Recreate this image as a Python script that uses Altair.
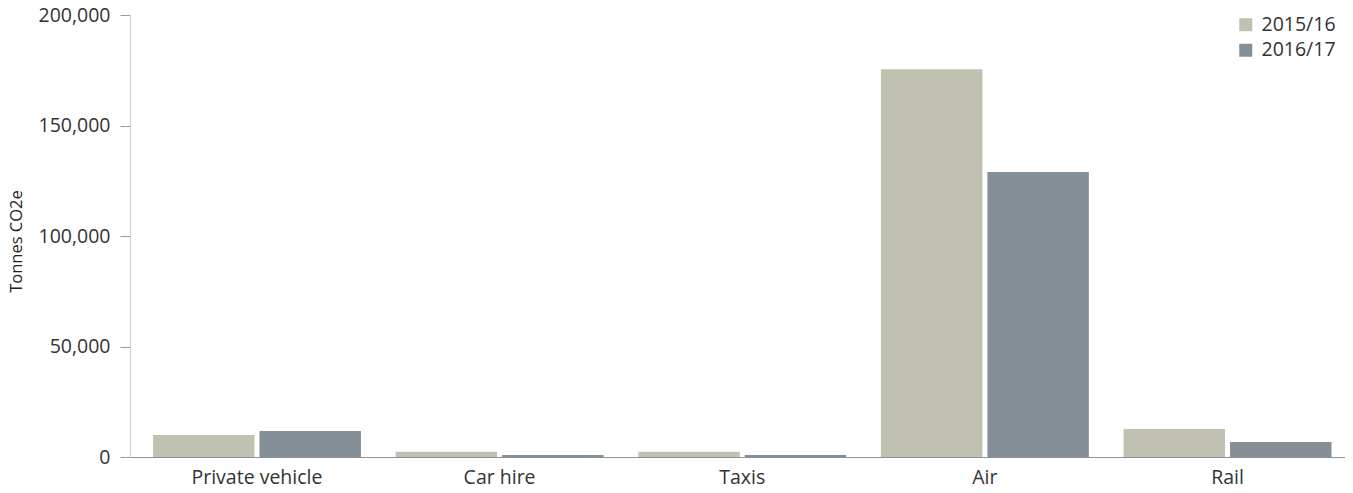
import altair as alt
import pandas as pd

categories = ["Private vehicle", "Car hire", "Taxis", "Air", "Rail"]
years = ["2015/16", "2016/17"]
values_1516 = [10000, 2400, 2400, 175500, 12700]
values_1617 = [11800, 900, 900, 129000, 6800]
colors = ["#c0c1b1", "#848f97"]

rows = []
for c, a, b in zip(categories, values_1516, values_1617):
    rows.append({"category": c, "year": years[0], "value": a})
    rows.append({"category": c, "year": years[1], "value": b})
df = pd.DataFrame(rows)

FONT = "Open Sans"

chart = alt.Chart(df).mark_bar().encode(
    x=alt.X("category:N", sort=categories, title=None,
            scale=alt.Scale(paddingInner=0.143, paddingOuter=0.0752, align=0.63),
            axis=alt.Axis(labelAngle=0, ticks=False, labelPadding=11,
                          labelFontSize=19.5, labelColor="#333333", labelFont=FONT,
                          domainColor="#89959c", domainWidth=1.2)),
    xOffset=alt.XOffset("year:N", sort=years,
                        scale=alt.Scale(paddingInner=0.047)),
    y=alt.Y("value:Q", title="Tonnes CO2e",
            scale=alt.Scale(domain=[0, 200000], nice=False),
            axis=alt.Axis(values=[0, 50000, 100000, 150000, 200000], format=",.0f",
                          grid=False, tickSize=10, labelPadding=10,
                          tickColor="#8f9aa1", domainColor="#c9cfd4",
                          labelFontSize=19.5, labelColor="#333333", labelFont=FONT,
                          titleFontSize=16.5, titleFontWeight="normal",
                          titleColor="#222222", titleFont=FONT,
                          titleX=-106, titleY=226)),
    color=alt.Color("year:N", sort=years, title=None,
                    scale=alt.Scale(domain=years, range=colors),
                    legend=alt.Legend(orient="none", legendX=1106, legendY=0,
                                      symbolType="square", symbolSize=169,
                                      symbolStrokeWidth=0, labelFontSize=19.5,
                                      labelFont=FONT, labelColor="#333333",
                                      labelOffset=6, rowPadding=4.5, padding=0)),
).properties(
    width=1215, height=442,
    autosize=alt.AutoSizeParams(type="none"),
    padding={"left": 122, "top": 7, "right": 0, "bottom": 28},
).configure_view(stroke=None)

chart.save("out.html", embed_options={"renderer": "svg", "actions": False})
